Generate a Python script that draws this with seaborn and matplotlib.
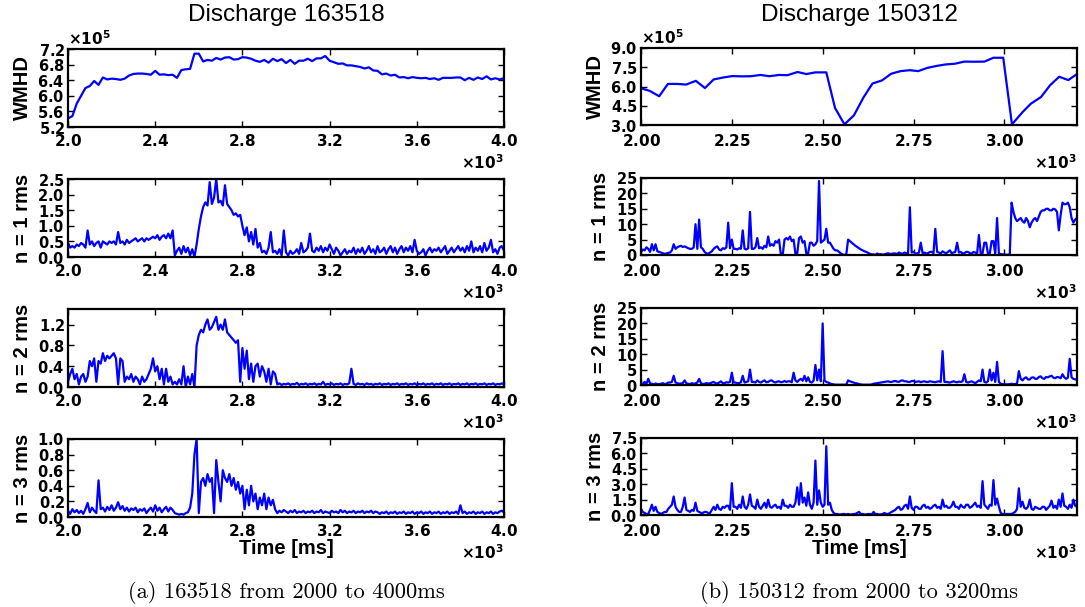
import matplotlib
matplotlib.use("Agg")
import numpy as np
import pandas as pd
import matplotlib.pyplot as plt
import seaborn as sns
from matplotlib.ticker import ScalarFormatter, MultipleLocator

# ---------------- data ----------------
# Discharge 163518 : time grid (ms) for the rms signals
t_a = list(range(2000, 4001, 10))

# WMHD (x1e5) for 163518, sampled every 20 ms
t_wmhd_a = list(range(2000, 4001, 20))
wmhd_a = [5.42, 5.48, 5.80, 6.00, 6.20, 6.25, 6.38, 6.28, 6.47, 6.42,
          6.44, 6.43, 6.41, 6.44, 6.52, 6.56, 6.57, 6.57, 6.56, 6.54,
          6.64, 6.54, 6.55, 6.53, 6.54, 6.46, 6.66, 6.68, 6.69, 7.08,
          7.08, 6.88, 6.92, 6.90, 6.97, 6.93, 6.98, 6.99, 6.93, 6.94,
          6.99, 6.98, 6.95, 6.90, 6.87, 6.92, 6.85, 6.95, 6.89, 6.94,
          6.84, 6.92, 6.82, 6.90, 6.90, 6.95, 6.89, 6.96, 6.96, 7.02,
          6.90, 6.86, 6.82, 6.83, 6.78, 6.78, 6.76, 6.74, 6.70, 6.73,
          6.65, 6.64, 6.55, 6.57, 6.52, 6.54, 6.47, 6.48, 6.45, 6.48,
          6.46, 6.45, 6.46, 6.43, 6.45, 6.41, 6.46, 6.46, 6.46, 6.47,
          6.47, 6.40, 6.46, 6.41, 6.47, 6.43, 6.50, 6.42, 6.45, 6.42,
          6.45]

n1_a = [0.45, 0.30, 0.35, 0.30, 0.40, 0.35, 0.45, 0.40, 0.30, 0.85,
        0.40, 0.50, 0.35, 0.45, 0.50, 0.30, 0.50, 0.45, 0.40, 0.50,
        0.45, 0.50, 0.40, 0.80, 0.45, 0.50, 0.40, 0.55, 0.45, 0.50,
        0.55, 0.60, 0.50, 0.55, 0.60, 0.50, 0.60, 0.55, 0.60, 0.65,
        0.60, 0.70, 0.55, 0.65, 0.70, 0.60, 0.75, 0.60, 0.85, 0.05,
        0.20, 0.30, 0.10, 0.35, 0.15, 0.30, 0.05, 0.25, 0.00, 0.40,
        0.90, 1.30, 1.60, 1.75, 1.65, 2.40, 1.70, 1.90, 2.50, 1.75,
        1.80, 1.65, 2.30, 1.70, 1.60, 1.50, 1.35, 1.40, 1.30, 1.35,
        1.00, 0.70, 0.95, 0.50, 0.80, 0.40, 0.90, 0.30, 0.45, 0.15,
        0.20, 0.10, 0.30, 0.80, 0.15, 0.20, 0.10, 0.25, 0.05, 0.85,
        0.15, 0.05, 0.20, 0.10, 0.15, 0.25, 0.10, 0.45, 0.15, 0.20,
        0.30, 0.75, 0.20, 0.15, 0.30, 0.20, 0.35, 0.15, 0.30, 0.20,
        0.40, 0.25, 0.10, 0.30, 0.20, 0.05, 0.15, 0.25, 0.10, 0.20,
        0.15, 0.30, 0.10, 0.25, 0.15, 0.30, 0.10, 0.20, 0.35, 0.15,
        0.25, 0.10, 0.35, 0.15, 0.20, 0.30, 0.10, 0.25, 0.35, 0.15,
        0.30, 0.10, 0.25, 0.35, 0.15, 0.30, 0.20, 0.35, 0.15, 0.55,
        0.20, 0.10, 0.15, 0.25, 0.05, 0.20, 0.30, 0.15, 0.25, 0.20,
        0.30, 0.15, 0.25, 0.35, 0.10, 0.20, 0.30, 0.15, 0.25, 0.35,
        0.20, 0.30, 0.15, 0.35, 0.20, 0.50, 0.15, 0.30, 0.20, 0.35,
        0.15, 0.45, 0.20, 0.30, 0.55, 0.15, 0.25, 0.10, 0.30, 0.35,
        0.20]

n2_a = [0.10, 0.25, 0.35, 0.15, 0.25, 0.05, 0.20, 0.25, 0.10, 0.20,
        0.50, 0.40, 0.55, 0.10, 0.50, 0.45, 0.65, 0.50, 0.60, 0.55,
        0.60, 0.65, 0.55, 0.05, 0.55, 0.50, 0.10, 0.20, 0.15, 0.25,
        0.10, 0.20, 0.15, 0.05, 0.20, 0.10, 0.15, 0.25, 0.35, 0.55,
        0.30, 0.40, 0.15, 0.35, 0.05, 0.35, 0.10, 0.20, 0.05, 0.10,
        0.05, 0.15, 0.05, 0.40, 0.00, 0.20, 0.05, 0.25, 0.00, 0.80,
        1.00, 1.10, 1.05, 1.20, 1.30, 1.10, 1.15, 1.25, 1.35, 1.10,
        1.20, 1.10, 1.30, 1.05, 1.00, 0.95, 0.90, 0.85, 0.90, 0.10,
        0.75, 0.35, 0.70, 0.15, 0.45, 0.10, 0.40, 0.45, 0.20, 0.40,
        0.30, 0.10, 0.35, 0.05, 0.30, 0.25, 0.05, 0.07, 0.04, 0.06,
        0.05, 0.07, 0.04, 0.06, 0.05, 0.08, 0.04, 0.06, 0.05, 0.07,
        0.04, 0.06, 0.05, 0.07, 0.04, 0.06, 0.05, 0.10, 0.04, 0.06,
        0.05, 0.07, 0.04, 0.06, 0.05, 0.07, 0.04, 0.06, 0.05, 0.07,
        0.35, 0.06, 0.04, 0.07, 0.05, 0.06, 0.04, 0.07, 0.05, 0.06,
        0.04, 0.06, 0.05, 0.07, 0.04, 0.06, 0.05, 0.07, 0.04, 0.06,
        0.05, 0.07, 0.04, 0.06, 0.05, 0.07, 0.04, 0.06, 0.05, 0.07,
        0.04, 0.06, 0.05, 0.07, 0.04, 0.06, 0.05, 0.07, 0.04, 0.06,
        0.05, 0.07, 0.04, 0.06, 0.05, 0.07, 0.04, 0.06, 0.05, 0.07,
        0.04, 0.06, 0.05, 0.07, 0.04, 0.06, 0.05, 0.07, 0.04, 0.06,
        0.05, 0.07, 0.04, 0.06, 0.05, 0.07, 0.04, 0.06, 0.05, 0.07,
        0.05]

n3_a = [0.08, 0.04, 0.10, 0.06, 0.09, 0.05, 0.08, 0.04, 0.10, 0.18,
        0.06, 0.12, 0.08, 0.05, 0.47, 0.10, 0.12, 0.07, 0.13, 0.09,
        0.15, 0.08, 0.12, 0.19, 0.10, 0.14, 0.08, 0.12, 0.07, 0.11,
        0.09, 0.12, 0.06, 0.10, 0.08, 0.11, 0.05, 0.09, 0.12, 0.07,
        0.15, 0.08, 0.12, 0.06, 0.10, 0.13, 0.07, 0.12, 0.09, 0.05,
        0.04, 0.03, 0.04, 0.03, 0.05, 0.06, 0.12, 0.30, 0.80, 1.00,
        0.05, 0.45, 0.50, 0.40, 0.55, 0.45, 0.50, 0.05, 0.73, 0.45,
        0.20, 0.60, 0.50, 0.45, 0.55, 0.40, 0.50, 0.35, 0.45, 0.30,
        0.40, 0.10, 0.35, 0.15, 0.40, 0.20, 0.30, 0.10, 0.25, 0.15,
        0.30, 0.10, 0.25, 0.15, 0.22, 0.10, 0.05, 0.08, 0.06, 0.09,
        0.07, 0.05, 0.08, 0.06, 0.09, 0.05, 0.07, 0.06, 0.08, 0.05,
        0.07, 0.06, 0.08, 0.05, 0.07, 0.06, 0.09, 0.05, 0.07, 0.06,
        0.05, 0.08, 0.06, 0.07, 0.05, 0.09, 0.06, 0.08, 0.05, 0.07,
        0.06, 0.08, 0.05, 0.07, 0.06, 0.08, 0.05, 0.07, 0.06, 0.08,
        0.05, 0.07, 0.06, 0.04, 0.06, 0.05, 0.07, 0.04, 0.06, 0.05,
        0.07, 0.04, 0.06, 0.05, 0.07, 0.04, 0.06, 0.05, 0.07, 0.04,
        0.06, 0.05, 0.07, 0.04, 0.06, 0.05, 0.07, 0.04, 0.06, 0.05,
        0.07, 0.04, 0.06, 0.05, 0.07, 0.04, 0.06, 0.05, 0.07, 0.04,
        0.15, 0.05, 0.07, 0.04, 0.06, 0.05, 0.07, 0.04, 0.06, 0.05,
        0.07, 0.04, 0.06, 0.05, 0.07, 0.04, 0.06, 0.05, 0.07, 0.08,
        0.06]

# Discharge 150312
t_wmhd_b = [2000, 2024, 2050, 2074, 2100, 2124, 2151, 2176, 2200, 2226,
            2251, 2277, 2302, 2329, 2353, 2380, 2403, 2431, 2455, 2480,
            2510, 2534, 2560, 2586, 2612, 2637, 2663, 2689, 2715, 2739,
            2763, 2788, 2813, 2839, 2863, 2890, 2916, 2945, 2970, 2997,
            3021, 3050, 3073, 3101, 3126, 3151, 3176, 3200]
wmhd_b = [5.86, 5.66, 5.24, 6.20, 6.20, 6.15, 6.44, 5.88, 6.55, 6.70,
          6.81, 6.79, 6.80, 6.90, 6.80, 6.90, 6.88, 7.13, 6.97, 7.10,
          7.10, 4.33, 3.05, 3.75, 5.13, 6.23, 6.47, 7.00, 7.20, 7.27,
          7.20, 7.45, 7.60, 7.72, 7.77, 7.94, 7.93, 7.94, 8.24, 8.24,
          3.05, 4.00, 4.66, 5.18, 6.10, 6.76, 6.50, 6.97]

# rms signals for 150312, every 5 ms
t_b = list(range(2000, 3201, 5))
n1_b = [1.0, 1.8, 1.5, 2.5, 2.0, 1.0, 3.5, 1.5, 3.5, 1.2, 1.0, 0.8, 0.6, 0.4, 0.5, 0.7, 0.8, 1.5, 3.5, 2.0,
        2.5, 2.8, 3.0, 2.6, 2.8, 2.5, 2.2, 2.0, 2.0, 2.4, 10.0, 2.0, 11.5, 2.5, 2.0, 1.0, 0.5, 0.4, 0.8, 1.2,
        2.0, 2.5, 2.8, 1.8, 1.5, 2.2, 2.0, 2.5, 10.5, 2.2, 5.0, 2.0, 2.0, 1.8, 2.2, 2.0, 8.0, 2.0, 1.8, 2.2,
        14.0, 2.0, 2.0, 2.5, 5.5, 2.2, 2.5, 2.0, 3.0, 2.5, 6.0, 3.0, 3.5, 3.0, 4.5, 4.0, 5.0, 0.0, 0.0, 5.0,
        5.5, 5.0, 6.0, 4.5, 5.0, 0.5, 0.5, 5.5, 6.0, 4.0, 4.5, 0.5, 0.5, 4.0, 4.0, 3.0, 3.5, 4.5, 24.0, 4.0,
        4.5, 5.0, 8.5, 4.0, 4.0, 3.0, 2.0, 1.5, 1.5, 1.0, 0.5, 0.2, 0.0, 0.2, 5.0, 4.5, 4.0, 3.5, 3.0, 2.6,
        2.2, 1.8, 1.5, 1.2, 1.0, 0.7, 0.4, 0.2, 0.2, 0.0, 0.5, 0.2, 0.3, 0.1, 0.2, 0.4, 0.6, 0.3, 0.4, 0.5,
        0.5, 0.3, 0.8, 0.5, 0.4, 0.8, 0.6, 0.4, 15.5, 0.8, 1.0, 0.5, 0.5, 0.8, 4.0, 0.6, 0.8, 0.5, 0.6, 1.0,
        1.0, 0.6, 8.5, 1.0, 0.8, 0.5, 1.2, 0.8, 0.6, 1.0, 1.5, 0.6, 0.8, 1.0, 4.0, 0.8, 1.0, 0.5, 0.6, 1.0,
        1.0, 0.6, 0.5, 1.0, 0.8, 0.4, 6.5, 0.5, 0.5, 4.0, 4.0, 0.3, 0.5, 4.5, 4.5, 0.3, 12.0, 0.5, 0.3, 0.2,
        0.2, 0.1, 0.1, 0.2, 17.0, 14.0, 12.0, 11.0, 11.5, 12.0, 11.0, 10.5, 12.0, 11.0, 9.0, 10.5, 11.5, 12.0, 11.0, 12.5,
        14.0, 14.5, 14.5, 15.0, 15.0, 14.5, 14.5, 15.0, 14.8, 14.0, 8.0, 13.0, 17.0, 16.5, 16.5, 17.0, 15.5, 12.0, 10.5, 11.5,
        12.0]
n2_b = [0.5, 0.3, 1.0, 0.4, 2.0, 0.5, 0.4, 0.2, 0.5, 0.3, 0.3, 0.4, 0.6, 0.3, 0.4, 0.8, 0.8, 1.0, 3.0, 0.8,
        0.6, 0.4, 0.5, 0.6, 1.5, 0.5, 0.4, 0.3, 0.6, 0.4, 0.5, 0.8, 2.0, 0.6, 0.3, 0.4, 0.6, 0.5, 0.5, 0.8,
        1.0, 0.6, 0.5, 0.8, 1.2, 0.6, 0.6, 0.9, 0.8, 1.0, 4.0, 0.8, 0.8, 0.6, 0.6, 0.9, 3.0, 0.8, 1.0, 1.2,
        5.0, 1.0, 1.0, 0.8, 1.5, 1.0, 0.8, 1.2, 1.5, 0.9, 1.0, 1.4, 1.5, 1.0, 0.8, 1.1, 1.2, 0.9, 1.0, 1.3,
        1.0, 1.2, 1.2, 0.9, 4.0, 1.5, 1.0, 1.6, 2.0, 1.4, 3.0, 1.2, 2.5, 1.0, 0.8, 1.4, 6.5, 1.5, 5.0, 1.2,
        20.0, 1.5, 1.0, 0.8, 0.5, 0.3, 0.2, 0.1, 0.1, 0.1, 0.1, 0.1, 0.1, 0.1, 1.5, 1.2, 1.0, 0.8, 0.6, 0.5,
        0.3, 0.2, 0.1, 0.1, 0.1, 0.1, 0.1, 0.2, 0.4, 0.5, 0.6, 0.7, 0.8, 0.9, 1.0, 1.1, 1.2, 1.0, 1.0, 1.2,
        1.3, 1.1, 1.0, 1.4, 1.5, 1.2, 1.2, 1.0, 1.0, 1.3, 1.3, 1.0, 1.1, 1.2, 0.9, 1.1, 1.2, 1.0, 1.0, 1.2,
        1.1, 1.0, 0.9, 1.1, 1.2, 1.0, 11.0, 1.0, 1.0, 0.9, 0.8, 1.0, 1.2, 1.0, 0.9, 1.1, 1.0, 1.2, 3.5, 1.0,
        0.8, 1.0, 1.2, 0.9, 0.6, 1.0, 1.5, 1.2, 5.0, 1.0, 0.8, 1.2, 5.0, 1.5, 4.0, 1.0, 7.5, 1.0, 0.4, 0.3,
        0.3, 0.2, 0.2, 0.3, 0.4, 0.3, 0.3, 0.5, 4.5, 2.0, 1.5, 2.2, 2.5, 1.8, 1.8, 2.4, 2.5, 2.0, 2.0, 2.6,
        2.8, 2.2, 2.0, 2.6, 2.5, 2.8, 3.0, 2.4, 2.2, 2.6, 2.5, 2.2, 3.5, 2.5, 2.0, 2.4, 8.5, 2.5, 2.0, 1.8,
        2.0]
n3_b = [0.6, 0.3, 0.2, 0.1, 0.1, 0.5, 1.0, 0.4, 0.8, 0.3, 0.2, 0.1, 0.2, 0.3, 0.3, 0.6, 0.8, 1.0, 1.8, 0.8,
        0.5, 0.3, 0.3, 0.8, 1.7, 0.5, 0.4, 0.3, 0.5, 0.4, 1.2, 0.4, 0.3, 0.2, 0.2, 0.3, 0.3, 0.2, 0.2, 0.5,
        0.8, 0.5, 1.0, 0.6, 0.5, 0.8, 0.7, 0.9, 0.9, 0.5, 3.1, 0.8, 0.8, 0.6, 1.0, 0.7, 1.8, 0.8, 0.6, 1.0,
        2.0, 0.9, 0.8, 0.6, 1.5, 0.8, 0.6, 0.9, 1.2, 0.7, 1.5, 0.8, 0.7, 0.9, 1.0, 0.7, 0.8, 0.6, 1.5, 0.9,
        0.9, 0.7, 1.0, 0.8, 0.8, 1.2, 2.7, 1.0, 3.1, 1.2, 1.7, 0.9, 2.2, 1.0, 0.6, 1.2, 5.3, 1.0, 2.4, 1.2,
        0.8, 1.0, 6.7, 1.0, 1.2, 0.5, 0.2, 0.1, 0.1, 0.05, 0.05, 0.1, 0.1, 0.05, 0.1, 0.05, 0.05, 0.1, 0.1, 0.2,
        0.3, 0.1, 0.1, 0.05, 0.05, 0.1, 0.1, 0.05, 0.3, 0.1, 0.1, 0.05, 0.05, 0.1, 0.2, 0.1, 0.1, 0.2, 0.3, 0.4,
        0.5, 0.7, 0.8, 0.5, 0.6, 0.9, 1.0, 0.6, 1.8, 0.7, 0.5, 0.8, 0.8, 0.6, 0.6, 0.9, 1.0, 0.7, 0.8, 0.6,
        0.7, 0.9, 1.0, 0.7, 0.8, 0.6, 1.5, 0.8, 0.9, 0.7, 0.7, 0.9, 1.3, 0.8, 0.8, 0.6, 1.0, 0.8, 0.7, 1.0,
        1.0, 0.7, 0.8, 1.0, 1.2, 0.8, 0.9, 0.7, 3.3, 1.0, 0.8, 0.6, 1.0, 0.9, 3.4, 1.0, 1.6, 0.8, 0.2, 0.1,
        0.1, 0.1, 0.1, 0.1, 0.1, 0.2, 0.3, 0.6, 2.6, 0.8, 1.3, 0.7, 0.6, 0.8, 1.5, 0.6, 0.5, 0.8, 0.7, 0.6,
        0.6, 0.8, 0.8, 0.5, 0.7, 0.9, 1.4, 0.7, 0.9, 0.6, 1.5, 0.8, 2.1, 0.9, 0.8, 0.6, 1.0, 0.7, 1.5, 0.9,
        0.8]

WMHD_UNIT = 1e5
titles = ["Discharge 163518", "Discharge 150312"]
captions = ["(a) 163518 from 2000 to 4000ms", "(b) 150312 from 2000 to 3200ms"]
ylabels = ["WMHD", "n = 1 rms", "n = 2 rms", "n = 3 rms"]

# ---------------- style ----------------
sns.set_theme(style="ticks")
plt.rcParams["font.family"] = ["DejaVu Sans"]
plt.rcParams.update({
    "font.weight": "bold",
    "mathtext.fontset": "custom",
    "mathtext.rm": "DejaVu Sans:bold",
    "mathtext.it": "DejaVu Sans:bold",
    "mathtext.bf": "DejaVu Sans:bold",
    "mathtext.sf": "DejaVu Sans:bold",
    "mathtext.default": "rm",
    "axes.edgecolor": "black",
    "axes.linewidth": 1.6,
    "xtick.color": "black", "ytick.color": "black",
    "text.color": "black", "axes.labelcolor": "black",
    "axes.labelweight": "bold",
    "xtick.direction": "in", "ytick.direction": "in",
    "xtick.top": True, "ytick.right": True,
    "xtick.major.size": 4, "ytick.major.size": 4,
    "xtick.major.width": 1.0, "ytick.major.width": 1.0,
    "xtick.major.pad": 4.5, "ytick.major.pad": 2.5,
    "xtick.labelsize": 11, "ytick.labelsize": 10.5,
})

fig = plt.figure(figsize=(10.85, 6.07), dpi=100)

W = 1085.0
H = 607.0
col_x = [68, 641]
col_w = 436
col_tops = [[49, 179, 309, 439], [48, 178, 308, 438]]
col_h = [78, 77]
col_xpad = [4.5, 6.0]

panels = [
    [(t_wmhd_a, [v * WMHD_UNIT for v in wmhd_a], (5.2e5, 7.2e5), 0.4e5),
     (t_a, n1_a, (0, 2.5), 0.5),
     (t_a, n2_a, (0, 1.5), 0.4),
     (t_a, n3_a, (0, 1.0), 0.2)],
    [(t_wmhd_b, [v * WMHD_UNIT for v in wmhd_b], (3.0e5, 9.0e5), 1.5e5),
     (t_b, n1_b, (0, 25), 5),
     (t_b, n2_b, (0, 25), 5),
     (t_b, n3_b, (0, 7.5), 1.5)],
]
xlims = [(2000, 4000), (2000, 3200)]
xsteps = [400, 250]

for c in range(2):
    for r in range(4):
        top = col_tops[c][r]
        h = col_h[c]
        ax = fig.add_axes([col_x[c] / W, 1 - (top + h) / H, col_w / W, h / H])
        tx, vy, ylim, ystep = panels[c][r]
        df = pd.DataFrame({"t": tx, "v": vy})
        sns.lineplot(data=df, x="t", y="v", ax=ax, color="#0000ff",
                     linewidth=1.6, estimator=None)
        ax.set_xlim(*xlims[c])
        ax.set_ylim(*ylim)
        ax.xaxis.set_major_locator(MultipleLocator(xsteps[c]))
        ax.yaxis.set_major_locator(MultipleLocator(ystep))
        ax.tick_params(axis="x", pad=col_xpad[c])
        xf = ScalarFormatter(useMathText=True)
        xf.set_powerlimits((0, 0))
        ax.xaxis.set_major_formatter(xf)
        yf = ScalarFormatter(useMathText=True)
        if r == 0:
            yf.set_powerlimits((0, 0))
        else:
            yf.set_powerlimits((-10, 10))
        ax.yaxis.set_major_formatter(yf)
        ax.minorticks_off()
        ax.xaxis.get_offset_text().set_fontsize(11)
        ax.yaxis.get_offset_text().set_fontsize(11)
        ax.set_ylabel(ylabels[r], fontsize=14.5, fontweight="bold",
                      family="Liberation Sans", labelpad=4)
        if r == 3:
            ax.set_xlabel("Time [ms]", fontsize=14.5, fontweight="bold",
                          family="Liberation Sans", labelpad=0)
        else:
            ax.set_xlabel("")

    cx = (col_x[c] + col_w / 2) / W
    fig.text(cx, 1 - 15 / H, titles[c], ha="center", va="center",
             fontsize=17.5, fontweight="normal", family="Liberation Sans")
    fig.text(cx, 1 - 592 / H, captions[c], ha="center", va="center",
             fontsize=16.2, fontweight="normal", family="cmr10")

fig.savefig("out.png", dpi=100)
